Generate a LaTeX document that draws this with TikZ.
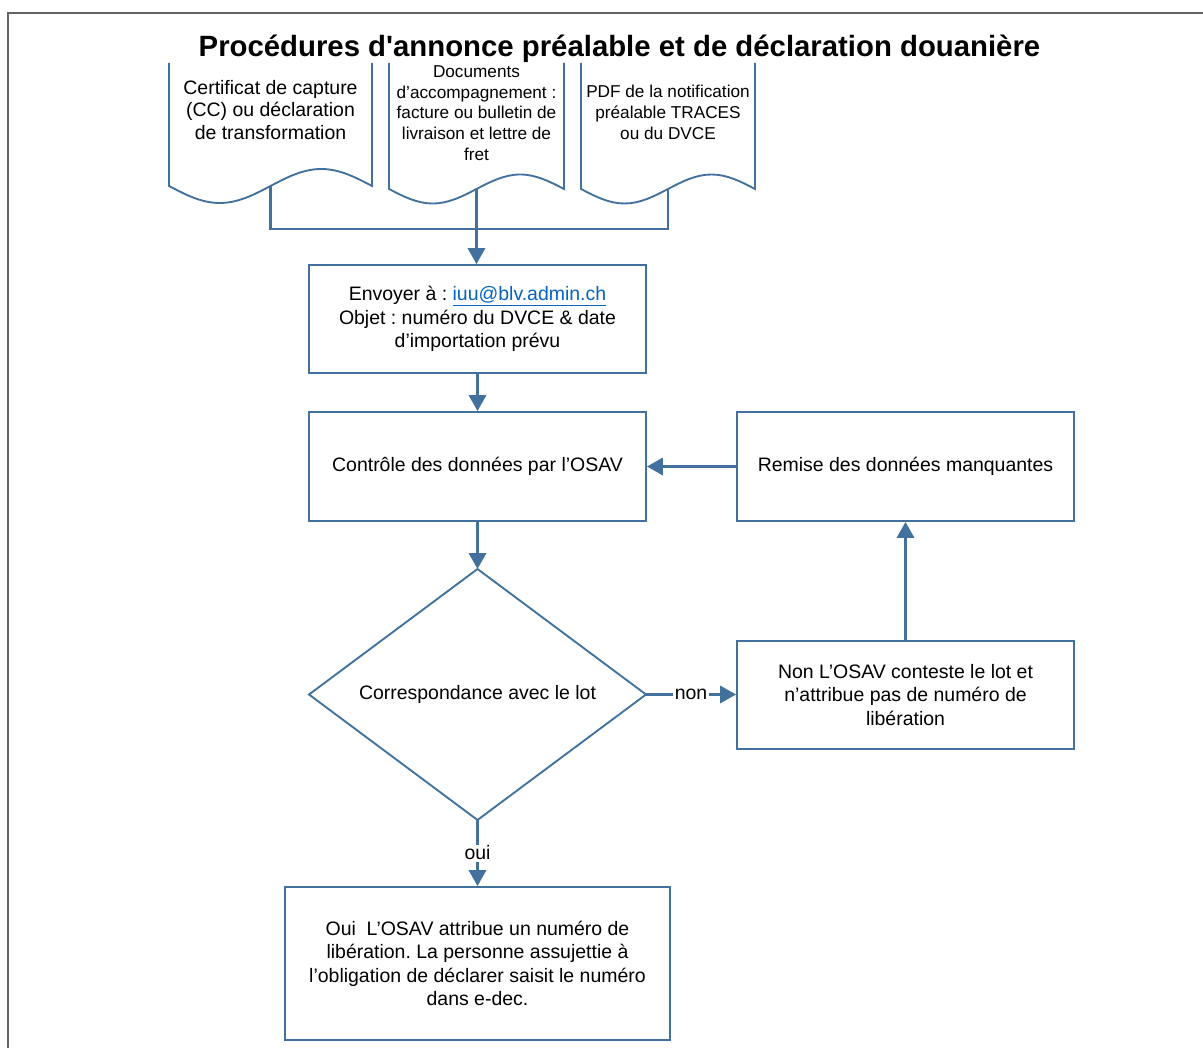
\documentclass[tikz,border=0pt]{standalone}
\usepackage{fontspec}
\setmainfont{Liberation Sans}
\usetikzlibrary{arrows.meta}
\definecolor{vblue}{RGB}{65,113,156}
\definecolor{vframe}{RGB}{100,100,100}
\definecolor{vlink}{RGB}{5,99,193}
\frenchspacing
\begin{document}
\begin{tikzpicture}[x=0.75pt,y=-0.75pt,
  box/.style={draw=vblue,line width=1.4pt,fill=white,align=center,inner sep=0pt,
    font=\fontsize{14.6}{17.4}\selectfont},
  docline/.style={draw=vblue,line width=1.4pt},
  doctext/.style={align=center,inner sep=0pt},
  conn/.style={draw=vblue,line width=1.8pt},
  arr/.style={conn,-{Triangle[width=13pt,length=12pt]}},
  lbl/.style={fill=white,inner sep=1pt,font=\fontsize{14.6}{17}\selectfont}]
\useasboundingbox (0,0) rectangle (1203,1048);
% outer frame
\draw[vframe,line width=1.2pt] (8,1052) -- (8,13) -- (1207,13);
% title
\node[anchor=base,inner sep=0pt,font=\bfseries\fontsize{22}{26}\selectfont] (title) at (619.5,57)
  {Procédures d\textquotesingle annonce préalable et de déclaration douanière};
% documents
\draw[docline] (169,63) -- (169,186) sin (219.75,203) cos (270.5,186) sin (321.25,169) cos (372,186) -- (372,63);
\draw[docline] (389,63) -- (389,189) sin (432.75,203.5) cos (476.5,189) sin (520.25,174.5) cos (564,189) -- (564,63);
\draw[docline] (581,63) -- (581,189) sin (624.5,203.5) cos (668,189) sin (711.5,174.5) cos (755,189) -- (755,63);
\node[doctext,font=\fontsize{14.6}{17}\selectfont] (doc1) at (270.5,110)
  {Certificat de capture\\(CC) ou déclaration\\de transformation};
\node[doctext,font=\fontsize{12.9}{15.5}\selectfont] (doc2) at (476.5,113)
  {Documents\\d’accompagnement :\\facture ou bulletin de\\livraison et lettre de\\fret};
\node[doctext,font=\fontsize{12.9}{15.5}\selectfont] (doc3) at (668,112.5)
  {PDF de la notification\\préalable TRACES\\ou du DVCE};
\coordinate (d1) at (270.5,186);
\coordinate (d2) at (476.5,189);
\coordinate (d3) at (668,189);
\coordinate (j1) at (270.5,229);
\coordinate (j2) at (476.5,229);
\coordinate (j3) at (668,229);
% boxes
\node[box,minimum width=252.75pt,minimum height=81pt] (b1) at (477.5,319)
  {Envoyer à : \textcolor{vlink}{\underline{iuu@blv.admin.ch}}\\Objet : numéro du DVCE \& date\\d’importation prévu};
\node[box,minimum width=252.75pt,minimum height=81.75pt] (b2) at (477.5,466.5)
  {Contrôle des données par l’OSAV};
\node[box,minimum width=252.75pt,minimum height=81.75pt] (b3) at (905.5,466.5)
  {Remise des données manquantes};
\node[box,minimum width=252.75pt,minimum height=81pt] (b4) at (905.5,695)
  {Non L’OSAV conteste le lot et\\n’attribue pas de numéro de\\libération};
\node[box,minimum width=288.75pt,minimum height=114.75pt] (b5) at (477.5,963.5)
  {Oui~ L’OSAV attribue un numéro de\\libération. La personne assujettie à\\l’obligation de déclarer saisit le numéro\\dans e-dec.};
% decision diamond
\coordinate (dt) at (477.5,569);
\coordinate (dr) at (646,694.5);
\coordinate (db) at (477.5,820);
\coordinate (dl) at (309,694.5);
\draw[docline,fill=white] (dt) -- (dr) -- (db) -- (dl) -- cycle;
\node[doctext,font=\fontsize{14.6}{17}\selectfont] (dec) at (477.5,694.5) {Correspondance avec le lot};
% connectors
\draw[conn] (d1) -- (j1) -- (j3) -- (d3);
\draw[conn] (d2) -- (j2);
\draw[arr] (j2) -- (j2 |- b1.north);
\draw[arr] (b1.south) -- (b2.north);
\draw[arr] (b3.west) -- (b2.east);
\draw[arr] (b2.south) -- (dt);
\draw[arr] (dr) -- node[lbl] (non) {non} (dr -| b4.west);
\draw[arr] (b4.north) -- (b3.south);
\draw[arr] (db) -- node[lbl] (oui) {oui} (b5.north);
\end{tikzpicture}
\end{document}
